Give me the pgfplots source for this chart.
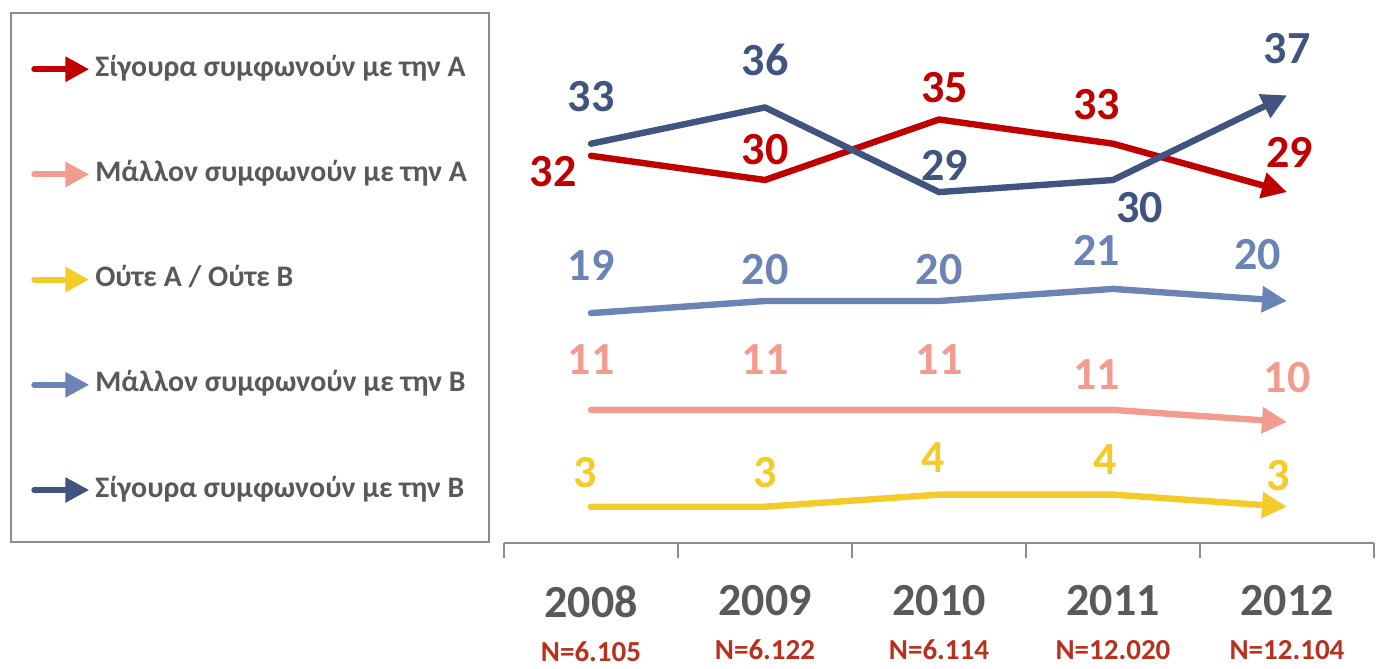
\documentclass[border=0pt]{standalone}
\usepackage{fontspec}
\setmainfont{Carlito}
\usepackage{pgfplots}
\pgfplotsset{compat=1.18}
\usetikzlibrary{arrows.meta}
\definecolor{cRed}{HTML}{C00000}
\definecolor{cPink}{HTML}{F29C90}
\definecolor{cYellow}{HTML}{F5CB2A}
\definecolor{cLBlue}{HTML}{6C83B5}
\definecolor{cNavy}{HTML}{40547F}
\definecolor{cGray}{HTML}{595959}
\definecolor{cN}{HTML}{B8311E}
\definecolor{cAxis}{HTML}{8C8C8C}
\begin{document}
\begin{tikzpicture}
\useasboundingbox (-252pt,-63pt) rectangle (438.5pt,271.5pt);
\begin{axis}[
  scale only axis,
  width=435pt, height=266.2pt,
  at={(0,0)}, anchor=south west,
  xmin=-0.5, xmax=4.5, ymin=0, ymax=44,
  clip=false,
  axis x line*=bottom, axis y line=none,
  axis line style={-, draw=cAxis, line width=1pt},
  xtick={0,1,2,3,4},
  major tick length=0pt,
  minor xtick={-0.5,0.5,1.5,2.5,3.5,4.5},
  minor tick length=7.5pt,
  tick align=outside,
  tick style={draw=cAxis, line width=1pt},
  xticklabels={
    {2008\\[-2pt]{\fontsize{14.5}{16}\selectfont\color{cN}N=6.105}},
    {2009\\[-2pt]{\fontsize{14.5}{16}\selectfont\color{cN}N=6.122}},
    {2010\\[-2pt]{\fontsize{14.5}{16}\selectfont\color{cN}N=6.114}},
    {2011\\[-2pt]{\fontsize{14.5}{16}\selectfont\color{cN}N=12.020}},
    {2012\\[-2pt]{\fontsize{14.5}{16}\selectfont\color{cN}N=12.104}}},
  xticklabel style={font=\fontsize{23}{24}\selectfont\bfseries, text=cGray, align=center, anchor=north, inner sep=0pt, yshift=-21pt},
  legend cell align=left,
  legend style={at={(0,0)}, anchor=south east, xshift=-7pt,
    draw=cAxis, line width=1pt,
    font=\fontsize{14.9}{17}\selectfont\bfseries, text=cGray,
    inner xsep=9.5pt, inner ysep=19.5pt, row sep=37.6pt, column sep=0pt,
    nodes={text height=12pt, text depth=3pt, inner xsep=1.5pt, inner ysep=0pt}},
  legend image code/.code={\path[draw=none, fill=none, -] (-2pt,-1pt) -- (0pt,-1pt);
     \draw[#1, line width=3pt, line cap=round, -{Triangle[length=12pt,width=12pt]}] (0pt,-1pt) -- (27.5pt,-1pt);},
  myline/.style={line width=3.2pt, line cap=round, line join=round, -{Triangle[length=12.5pt,width=12.5pt]}},
]
\addplot[cRed, myline] coordinates {(0,32) (1,30) (2,35) (3,33) (4,29)};
\addlegendentry{Σίγουρα συμφωνούν με την Α}
\addplot[cPink, myline] coordinates {(0,11) (1,11) (2,11) (3,11) (4,10)};
\addlegendentry{Μάλλον συμφωνούν με την Α}
\addplot[cYellow, myline] coordinates {(0,3) (1,3) (2,4) (3,4) (4,3)};
\addlegendentry{Ούτε Α / Ούτε Β}
\addplot[cLBlue, myline] coordinates {(0,19) (1,20) (2,20) (3,21) (4,20)};
\addlegendentry{Μάλλον συμφωνούν με την Β}
\addplot[cNavy, myline] coordinates {(0,33) (1,36) (2,29) (3,30) (4,37)};
\addlegendentry{Σίγουρα συμφωνούν με την Β}

\begin{scope}[every node/.style={font=\fontsize{23}{25}\selectfont\bfseries, inner sep=0pt, anchor=center}]
% navy
\node[text=cNavy] at (axis cs:0,36.86) {33};
\node[text=cNavy] at (axis cs:1,39.92) {36};
\node[text=cNavy] at (axis cs:2.034,31.24) {29};
\node[text=cNavy] at (axis cs:3.155,27.69) {30};
\node[text=cNavy] at (axis cs:4,40.9) {37};
% red
\node[text=cRed] at (axis cs:-0.218,30.66) {32};
\node[text=cRed] at (axis cs:1,32.48) {30};
\node[text=cRed] at (axis cs:2.034,37.6) {35};
\node[text=cRed] at (axis cs:2.908,36.2) {33};
\node[text=cRed] at (axis cs:4.017,32.31) {29};
% light blue
\node[text=cLBlue] at (axis cs:0,22.98) {19};
\node[text=cLBlue] at (axis cs:1,22.56) {20};
\node[text=cLBlue] at (axis cs:2,22.56) {20};
\node[text=cLBlue] at (axis cs:2.908,24.2) {21};
\node[text=cLBlue] at (axis cs:3.833,23.8) {20};
% pink
\node[text=cPink] at (axis cs:0,15.12) {11};
\node[text=cPink] at (axis cs:1,15.12) {11};
\node[text=cPink] at (axis cs:2,15.12) {11};
\node[text=cPink] at (axis cs:2.908,13.88) {11};
\node[text=cPink] at (axis cs:4,13.64) {10};
% yellow
\node[text=cYellow] at (axis cs:-0.034,5.79) {3};
\node[text=cYellow] at (axis cs:1,5.79) {3};
\node[text=cYellow] at (axis cs:1.966,7.1) {4};
\node[text=cYellow] at (axis cs:2.954,6.86) {4};
\node[text=cYellow] at (axis cs:3.948,5.54) {3};
\end{scope}
\end{axis}
\end{tikzpicture}
\end{document}
